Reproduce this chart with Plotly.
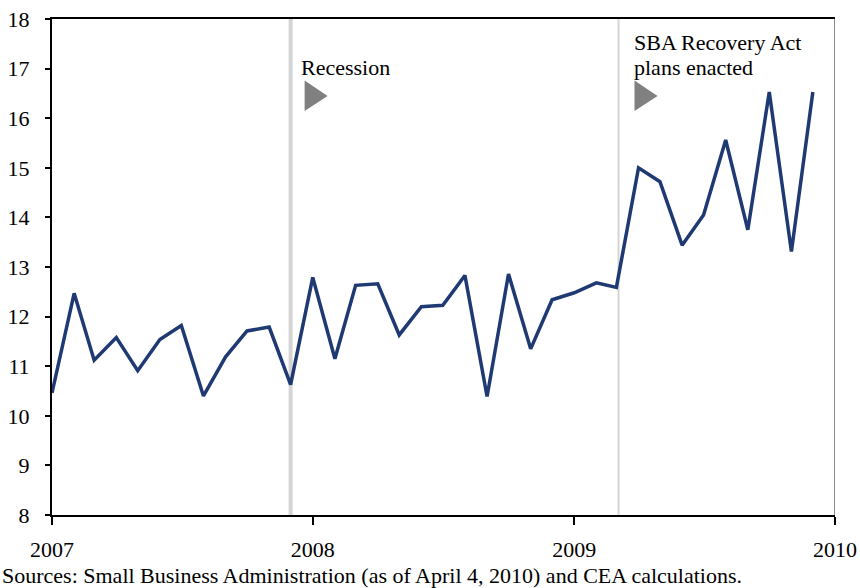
import plotly.graph_objects as go

months = [
    "2007-01-01", "2007-02-01", "2007-03-01", "2007-04-01", "2007-05-01", "2007-06-01",
    "2007-07-01", "2007-08-01", "2007-09-01", "2007-10-01", "2007-11-01", "2007-12-01",
    "2008-01-01", "2008-02-01", "2008-03-01", "2008-04-01", "2008-05-01", "2008-06-01",
    "2008-07-01", "2008-08-01", "2008-09-01", "2008-10-01", "2008-11-01", "2008-12-01",
    "2009-01-01", "2009-02-01", "2009-03-01", "2009-04-01", "2009-05-01", "2009-06-01",
    "2009-07-01", "2009-08-01", "2009-09-01", "2009-10-01", "2009-11-01", "2009-12-01",
]
values = [
    10.46, 12.47, 11.12, 11.58, 10.91, 11.54, 11.82, 10.40, 11.19, 11.71, 11.79, 10.63,
    12.79, 11.15, 12.63, 12.66, 11.63, 12.20, 12.23, 12.83, 10.39, 12.86, 11.35, 12.34,
    12.48, 12.68, 12.59, 15.00, 14.72, 13.44, 14.05, 15.56, 13.75, 16.53, 13.31, 16.53,
]
year_ticks = ["2007-01-01", "2008-01-01", "2009-01-01", "2010-01-01"]
year_labels = ["2007", "2008", "2009", "2010"]
recession_start = "2007-12-01"
sba_enacted = "2009-03-04"
source_note = "Sources: Small Business Administration (as of April 4, 2010) and CEA calculations."

FONT = "Liberation Serif, Times New Roman, serif"

fig = go.Figure()
fig.add_trace(go.Scatter(
    x=months, y=values, mode="lines",
    line=dict(color="#1f3a73", width=3.5),
    hoverinfo="skip", showlegend=False,
))

# vertical event lines
fig.add_shape(type="line", xref="x", yref="paper", x0=recession_start, x1=recession_start,
              y0=0, y1=1, line=dict(color="#d4d4d4", width=4), layer="below")
fig.add_shape(type="line", xref="x", yref="paper", x0=sba_enacted, x1=sba_enacted,
              y0=0, y1=1, line=dict(color="#d4d4d4", width=2), layer="below")
# right border (gray)
fig.add_shape(type="line", xref="x", yref="paper", x0=year_ticks[-1], x1=year_ticks[-1],
              y0=0, y1=1, line=dict(color="#8c8c8c", width=2))

# triangles
for xd, off in [(recession_start, 14), (sba_enacted, 16)]:
    fig.add_shape(type="path", xref="x", yref="y", xsizemode="pixel", ysizemode="pixel",
                  xanchor=xd, yanchor=16.5,
                  path=f"M {off},{13} L {off+23},{-2.5} L {off},{-17.5} Z",
                  fillcolor="#808080", line=dict(width=0))

fig.add_annotation(x=recession_start, y=17, xref="x", yref="y", text="Recession",
                   showarrow=False, xanchor="left", yanchor="middle", xshift=8, yshift=1,
                   font=dict(family=FONT, size=22, color="#000000"))
fig.add_annotation(x=sba_enacted, y=17.52, xref="x", yref="y", text="SBA Recovery Act",
                   showarrow=False, xanchor="left", yanchor="middle", xshift=13,
                   font=dict(family=FONT, size=22, color="#000000"))
fig.add_annotation(x=sba_enacted, y=17.03, xref="x", yref="y", text="plans enacted",
                   showarrow=False, xanchor="left", yanchor="middle", xshift=13,
                   font=dict(family=FONT, size=22, color="#000000"))

fig.add_annotation(x=-52 / 783, y=-0.125, xref="paper", yref="paper", text=source_note,
                   showarrow=False, xanchor="left", yanchor="middle", xshift=0, yshift=2,
                   font=dict(family=FONT, size=22, color="#000000"))

fig.update_layout(
    width=860, height=588,
    margin=dict(l=52, r=25, t=19, b=73),
    paper_bgcolor="white", plot_bgcolor="white",
    font=dict(family=FONT, size=22, color="#000000"),
    xaxis=dict(
        type="date", range=[year_ticks[0], year_ticks[-1]],
        tickmode="array", tickvals=year_ticks, ticktext=year_labels,
        ticks="outside", ticklen=8, tickwidth=2, tickcolor="#000000",
        showline=True, linecolor="#000000", linewidth=2, mirror=True,
        showgrid=False, zeroline=False, ticklabelstandoff=6, automargin=False,
        ticklabeloverflow="allow",
        tickfont=dict(family=FONT, size=22),
    ),
    yaxis=dict(
        range=[8, 18], dtick=1, tick0=8,
        ticks="outside", ticklen=5, tickwidth=2, tickcolor="#000000",
        showline=True, linecolor="#000000", linewidth=2,
        showgrid=False, zeroline=False, ticklabelstandoff=11, automargin=False,
        ticklabeloverflow="allow",
        tickfont=dict(family=FONT, size=22),
    ),
)

# remove the page's default body margin so the figure fills the window exactly
fig.write_html(
    "out.html",
    config={"displayModeBar": False},
    post_script="document.body.style.margin='0';document.body.style.overflow='hidden';",
)
